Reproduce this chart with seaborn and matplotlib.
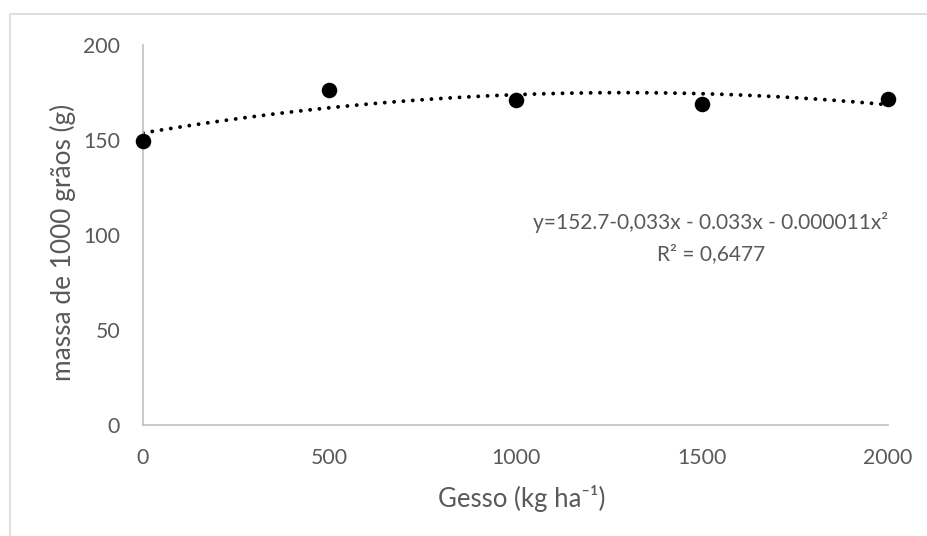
import numpy as np
import pandas as pd
import seaborn as sns
import matplotlib.pyplot as plt
from matplotlib.lines import Line2D

# data
gesso = [0, 500, 1000, 1500, 2000]
massa = [149.5, 176.3, 171.0, 168.8, 171.8]
x_ticks = [0, 500, 1000, 1500, 2000]
y_ticks = [0, 50, 100, 150, 200]
equation = "y=152.7-0,033x - 0.033x - 0.000011x\u00b2"
r2_text = "R\u00b2 = 0,6477"

df = pd.DataFrame({"gesso": gesso, "massa": massa})

sns.set_theme(style="white")
plt.rcParams["font.family"] = ["Lato", "DejaVu Sans"]
grey = "#595959"

W, H = 928, 536
fig = plt.figure(figsize=(W / 100, H / 100), dpi=100)
ax = fig.add_axes([143 / W, 1 - 425 / H, (888 - 143) / W, (425 - 45) / H])

# chart area border (only top and left edges are inside the crop)
fig.lines.append(Line2D([10 / W, 10 / W, 1.0], [0.0, 1 - 14 / H, 1 - 14 / H],
                        transform=fig.transFigure, color="#d9d9d9", linewidth=1.2))

# quadratic trend line, round dots
sns.regplot(data=df, x="gesso", y="massa", order=2, ci=None, scatter=False,
            truncate=True, ax=ax,
            line_kws={"color": "black", "linewidth": 2.8,
                      "linestyle": (0, (0.01, 2.4)), "dash_capstyle": "round"})
sns.scatterplot(data=df, x="gesso", y="massa", ax=ax, color="black",
                s=125, edgecolor="black", linewidth=0, zorder=3, clip_on=False)

ax.set_xlim(0, 2000)
ax.set_ylim(0, 200)
ax.set_xticks(x_ticks)
ax.set_yticks(y_ticks)
ax.tick_params(axis="both", length=0, labelsize=15.3, colors=grey, pad=16.5)

for side in ["top", "right"]:
    ax.spines[side].set_visible(False)
for side in ["left", "bottom"]:
    ax.spines[side].set_color("#bfbfbf")
    ax.spines[side].set_linewidth(1.2)

xl = ax.set_xlabel("Gesso (kg ha\u207b\u00b9)", fontsize=15, color=grey, va="center")
yl = ax.set_ylabel("massa de 1000 gr\u00e3os (g)", fontsize=15, color=grey, va="center")
ax.xaxis.set_label_coords((522 - 143) / 745, (425 - 499) / 380)
ax.yaxis.set_label_coords((63 - 143) / 745, (425 - 242) / 380)

t1 = ax.text((711 - 143) / 745, (425 - 223) / 380, equation, transform=ax.transAxes,
             ha="center", va="center", fontsize=15, color=grey)
t2 = ax.text((711 - 143) / 745, (425 - 254) / 380, r2_text, transform=ax.transAxes,
             ha="center", va="center", fontsize=15, color=grey)

# scale the Lato text so its length matches the Calibri text of the reference
fig.canvas.draw()
rend = fig.canvas.get_renderer()
for txt, target, vertical in [(xl, 168, False), (yl, 279, True), (t1, 355, False)]:
    bb = txt.get_window_extent(rend)
    size = bb.height if vertical else bb.width
    txt.set_fontsize(txt.get_fontsize() * target / size)
t2.set_fontsize(t1.get_fontsize())

fig.savefig("out.png", dpi=100)
